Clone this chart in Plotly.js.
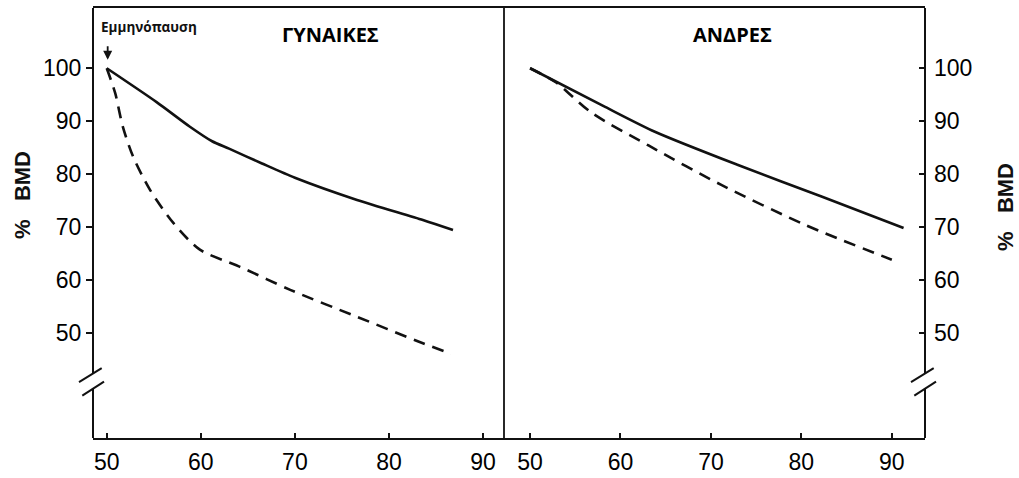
<!DOCTYPE html>
<html>
<head>
<meta charset="utf-8">
<script src="https://cdn.plot.ly/plotly-3.0.1.min.js"></script>
<style>
  html, body { margin: 0; padding: 0; background: #fff; }
  #chart { width: 1019px; height: 478px; }
</style>
</head>
<body>
<div id="chart"></div>
<script>
// ---- Data ----
var panelTitles = ['ΓΥΝΑΙΚΕΣ', 'ΑΝΔΡΕΣ'];
var menopauseLabel = 'Εμμηνόπαυση';
var yTitle = '%\u00a0\u00a0\u00a0BMD';

var xTicks = [50, 60, 70, 80, 90];
var yTicks = [50, 60, 70, 80, 90, 100];

// Women (left panel)
var womenSolidAge = [50, 55.3, 58.8, 61.2, 63.0, 66.5, 70.0, 76.6, 83.6, 86.8];
var womenSolidBMD = [100, 93.6, 89.0, 86.2, 84.8, 82.0, 79.3, 75.1, 71.3, 69.4];
var womenDashAge  = [50, 50.9, 51.7, 52.8, 54.6, 57.1, 59.9, 64.1, 69.5, 76.6, 83.6, 86.6];
var womenDashBMD  = [100, 95.3, 89.0, 83.3, 77.0, 70.7, 65.7, 62.5, 58.1, 53.0, 48.0, 46.0];

// Men (right panel)
var menSolidAge = [50, 58.3, 63.8, 73.0, 82.3, 91.3];
var menSolidBMD = [100, 92.7, 88.0, 81.7, 75.7, 69.8];
var menDashAge  = [50, 52.8, 56.8, 63.1, 71.2, 80.4, 90.0];
var menDashBMD  = [100, 97.4, 91.6, 85.4, 77.9, 70.4, 63.8];

// ---- Layout constants ----
var W = 1019, H = 478;
var mL = 93, mR = 94, mT = 8, mB = 40;
var plotW = W - mL - mR;           // 832
var split = 411 / plotW;           // divider in paper units
var yRange = [30.08, 111.4];
var breakLo = 39.41, breakHi = 42.27;
var ink = '#111111';

function px(p) { return p / plotW; }

var tickFont = { family: 'Liberation Sans, Arial, sans-serif', size: 23, color: '#000' };

var solid = { color: ink, width: 2.6, shape: 'spline', smoothing: 0.7 };
var dashed = { color: ink, width: 2.6, dash: '12px,8px', shape: 'spline', smoothing: 0.8 };

var traces = [
  { x: womenSolidAge, y: womenSolidBMD, xaxis: 'x', yaxis: 'y', mode: 'lines', line: solid, hoverinfo: 'skip' },
  { x: womenDashAge, y: womenDashBMD, xaxis: 'x', yaxis: 'y', mode: 'lines', line: dashed, hoverinfo: 'skip' },
  { x: menSolidAge, y: menSolidBMD, xaxis: 'x2', yaxis: 'y2', mode: 'lines', line: solid, hoverinfo: 'skip' },
  { x: menDashAge, y: menDashBMD, xaxis: 'x2', yaxis: 'y2', mode: 'lines', line: dashed, hoverinfo: 'skip' }
];

function xAxis(domain, range, anchor) {
  return {
    domain: domain, range: range, anchor: anchor,
    tickmode: 'array', tickvals: xTicks, ticktext: xTicks.map(String),
    ticks: 'inside', ticklen: 5, tickwidth: 2, tickcolor: ink,
    showline: true, mirror: true, linewidth: 2, linecolor: ink,
    showgrid: false, zeroline: false, tickfont: tickFont, ticklabelstandoff: 2,
    fixedrange: true
  };
}

var layout = {
  width: W, height: H,
  margin: { l: mL, r: mR, t: mT, b: mB, pad: 0 },
  paper_bgcolor: '#fff', plot_bgcolor: '#fff',
  showlegend: false,
  xaxis: xAxis([0, split], [48.54, 92.22], 'y'),
  xaxis2: xAxis([split, 1], [47.12, 93.67], 'y2'),
  yaxis: {
    domain: [0, 1], range: yRange, anchor: 'x', side: 'left',
    tickmode: 'array', tickvals: yTicks, ticktext: yTicks.map(String),
    ticks: 'outside', ticklen: 6, tickwidth: 2, tickcolor: ink,
    showline: false, showgrid: false, zeroline: false, tickfont: tickFont,
    fixedrange: true
  },
  yaxis2: {
    domain: [0, 1], range: yRange, anchor: 'x2', side: 'right',
    tickmode: 'array', tickvals: yTicks, ticktext: yTicks.map(String),
    ticks: 'inside', ticklen: 6, tickwidth: 2, tickcolor: ink,
    showline: false, showgrid: false, zeroline: false, tickfont: tickFont,
    ticklabelstandoff: 8, fixedrange: true
  },
  shapes: [],
  annotations: []
};

// Axis lines with breaks, divider
function vline(xp, yref, y0, y1, w) {
  return { type: 'line', xref: 'paper', yref: yref, x0: xp, x1: xp, y0: y0, y1: y1,
           line: { color: ink, width: w || 2 }, layer: 'above' };
}
layout.shapes.push(vline(0, 'y', breakHi, yRange[1]));
layout.shapes.push(vline(0, 'y', yRange[0], breakLo));
layout.shapes.push(vline(1, 'y2', breakHi, yRange[1]));
layout.shapes.push(vline(1, 'y2', yRange[0], breakLo));
layout.shapes.push(vline(split, 'paper', 0, 1, 1.8));

// Break slashes
function slashes(xp, yref) {
  return [
    { type: 'line', xref: 'paper', yref: yref, x0: xp + px(-14), x1: xp + px(8.7), y0: 40.64, y1: 43.29,
      line: { color: ink, width: 2 }, layer: 'above' },
    { type: 'line', xref: 'paper', yref: yref, x0: xp + px(-10.7), x1: xp + px(11), y0: 38.09, y1: 40.73,
      line: { color: ink, width: 2 }, layer: 'above' }
  ];
}
layout.shapes = layout.shapes.concat(slashes(0, 'y'), slashes(1, 'y2'));

// Texts
var titleFont = { family: 'Open Sans, sans-serif', size: 20, color: '#000', weight: 700 };
layout.annotations.push({ xref: 'paper', yref: 'paper', x: px(330 - mL), y: (438 - 35) / 430,
  xanchor: 'center', yanchor: 'middle', showarrow: false, text: '<b>' + panelTitles[0] + '</b>', font: titleFont });
layout.annotations.push({ xref: 'paper', yref: 'paper', x: px(732 - mL), y: (438 - 35) / 430,
  xanchor: 'center', yanchor: 'middle', showarrow: false, text: '<b>' + panelTitles[1] + '</b>', font: titleFont });

layout.annotations.push({ xref: 'paper', yref: 'paper', x: px(99 - mL), y: (438 - 27) / 430,
  xanchor: 'left', yanchor: 'middle', showarrow: false, text: '<b>' + menopauseLabel + '</b>',
  font: { family: 'Open Sans, sans-serif', size: 13.5, color: '#111' } });
layout.annotations.push({ xref: 'x', yref: 'y', x: 50.1, y: 101.6, ax: 0, ay: -15, text: '',
  showarrow: true, arrowhead: 2, arrowsize: 1, arrowwidth: 1.8, arrowcolor: ink });

var axTitleFont = { family: 'Liberation Sans, Arial, sans-serif', size: 22, color: ink };
layout.annotations.push({ xref: 'paper', yref: 'paper', x: px(22 - mL), y: (438 - 195) / 430,
  xanchor: 'center', yanchor: 'middle', textangle: -90, showarrow: false, text: '<b>' + yTitle + '</b>', font: axTitleFont });
layout.annotations.push({ xref: 'paper', yref: 'paper', x: px(1005 - mL), y: (438 - 207) / 430,
  xanchor: 'center', yanchor: 'middle', textangle: -90, showarrow: false, text: '<b>' + yTitle + '</b>', font: axTitleFont });

Plotly.newPlot('chart', traces, layout, { staticPlot: true, displayModeBar: false });
</script>
</body>
</html>
